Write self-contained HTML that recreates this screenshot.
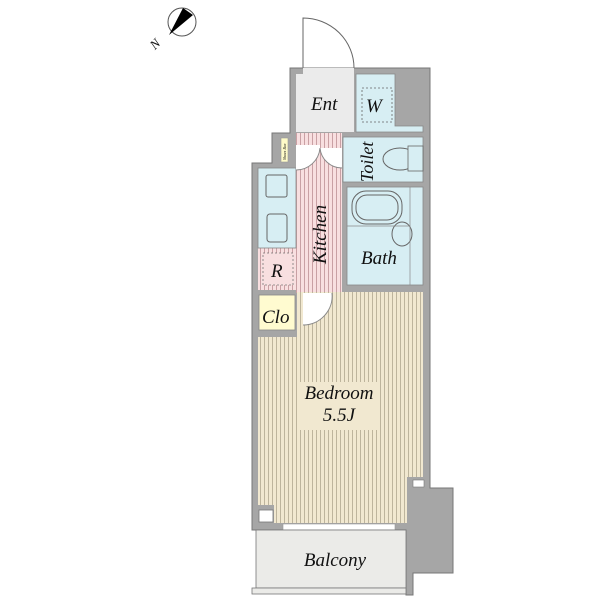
<!DOCTYPE html>
<html><head><meta charset="utf-8"><style>
html,body{margin:0;padding:0;background:#fff;}
svg{display:block}
text{font-family:"Liberation Serif",serif;font-style:italic;fill:#111}
</style></head><body>
<svg width="600" height="600" viewBox="0 0 600 600" xmlns="http://www.w3.org/2000/svg">
<defs>
<pattern id="bed" width="4" height="10" patternUnits="userSpaceOnUse"><rect width="4" height="10" fill="#f1e8d0"/><rect width="1" height="10" fill="#bdb49c"/></pattern>
<pattern id="pk" width="4" height="10" patternUnits="userSpaceOnUse"><rect width="4" height="10" fill="#f8dfe0"/><rect width="1" height="10" fill="#c9a0a4"/></pattern>
</defs>
<circle cx="182" cy="22" r="14" fill="#fff" stroke="#555" stroke-width="1"/>
<polygon points="169,35 183,8 193,15" fill="#000"/>
<text x="150" y="48" font-size="13" font-style="normal" transform="rotate(-45 155 43)">N</text>
<path d="M303,68 L303,18 A51,50 0 0 1 354,68" fill="none" stroke="#666" stroke-width="1"/>
<path d="M290,68 H430 V488 H453 V573 H413 V595 H406 V530 H252 V163 H272 V133 H290 Z" fill="#a6a6a6" stroke="#777" stroke-width="1"/>
<rect x="296" y="74" width="58" height="58" fill="#ebebeb"/>
<rect x="303" y="68" width="51" height="7" fill="#ebebeb"/>
<path d="M356,74 H395 V126 H423 V132 H356 Z" fill="#d7eef3" stroke="#888" stroke-width="0.8"/>
<rect x="362" y="88" width="30" height="34" fill="none" stroke="#666" stroke-dasharray="2,2" stroke-width="0.8"/>
<rect x="343" y="137" width="80" height="45" fill="#d7eef3" stroke="#888" stroke-width="0.8"/>
<ellipse cx="400" cy="159" rx="17" ry="11" fill="none" stroke="#666"/>
<rect x="408" y="146" width="15" height="25" fill="#d7eef3" stroke="#666" stroke-width="0.8"/>
<rect x="347" y="187" width="76" height="98" fill="#d7eef3" stroke="#888" stroke-width="0.8"/>
<rect x="352" y="191" width="50" height="33" rx="14" fill="none" stroke="#666"/>
<rect x="356" y="195" width="42" height="25" rx="11" fill="none" stroke="#666"/>
<ellipse cx="402" cy="234" rx="10" ry="12" fill="none" stroke="#666"/>
<line x1="347" y1="226" x2="410" y2="226" stroke="#888" stroke-width="0.7"/>
<line x1="410" y1="187" x2="410" y2="285" stroke="#888" stroke-width="0.7"/>
<rect x="296" y="133" width="46" height="160" fill="url(#pk)"/>
<rect x="258" y="248" width="38" height="42" fill="url(#pk)"/>
<rect x="263" y="253" width="30" height="32" fill="#f8dfe0" stroke="#777" stroke-dasharray="2,2" stroke-width="0.8"/>
<rect x="258" y="168" width="38" height="80" fill="#d7eef3" stroke="#888" stroke-width="0.8"/>
<rect x="266" y="175" width="21" height="22" rx="2" fill="none" stroke="#666"/>
<rect x="267" y="214" width="20" height="28" rx="3" fill="none" stroke="#666"/>
<rect x="281" y="138" width="7" height="24" fill="#fffbc8" stroke="#999" stroke-width="0.6"/>
<text x="0" y="0" font-size="4" transform="translate(286,160) rotate(-90)">Shoes Box</text>
<path d="M296,145 H320 V148 A24,24 0 0 1 296,170 Z" fill="#fff"/>
<path d="M320,148 A24,24 0 0 1 296,170" fill="none" stroke="#888"/>
<path d="M342,148 H320 A22,22 0 0 0 342,168 Z" fill="#fff"/>
<path d="M320,148 A22,22 0 0 0 342,168" fill="none" stroke="#888"/>
<rect x="259" y="295" width="36" height="35" fill="#fffbd0" stroke="#888" stroke-width="0.8"/>
<path d="M297,292 H423 V477 H407 V523 H275 V337 H258 V337 H297 Z" fill="url(#bed)"/>
<rect x="258" y="337" width="40" height="168" fill="url(#bed)"/>
<rect x="274" y="500" width="30" height="23" fill="url(#bed)"/>
<rect x="259" y="510" width="14" height="12" fill="#fff" stroke="#777" stroke-width="0.8"/>
<rect x="413" y="480" width="11" height="7" fill="#fff" stroke="#777" stroke-width="0.6"/>
<path d="M303,293 H332 A29,29 0 0 1 303,325 Z" fill="#fff"/>
<path d="M332,293 A29,29 0 0 1 303,325" fill="none" stroke="#888"/>
<rect x="298" y="382" width="80" height="48" fill="#f1e8d0"/>
<rect x="283" y="524" width="112" height="6" fill="#fff" stroke="#999" stroke-width="0.6"/>
<rect x="256" y="530" width="150" height="58" fill="#ebebe8" stroke="#777" stroke-width="0.8"/>
<rect x="252" y="588" width="154" height="6" fill="#ebebe8" stroke="#777" stroke-width="0.8"/>
<text x="311" y="110" font-size="19">Ent</text>
<text x="366" y="112" font-size="19">W</text>
<text x="0" y="0" font-size="18" transform="translate(373,182) rotate(-90)">Toilet</text>
<text x="361" y="264" font-size="19">Bath</text>
<text x="0" y="0" font-size="19" transform="translate(326,264) rotate(-90)">Kitchen</text>
<text x="271" y="277" font-size="19">R</text>
<text x="262" y="323" font-size="19">Clo</text>
<text x="339" y="399" font-size="19" text-anchor="middle">Bedroom</text>
<text x="339" y="421" font-size="19" text-anchor="middle" font-style="normal">5.5J</text>
<text x="335" y="566" font-size="19" text-anchor="middle">Balcony</text>
</svg>
</body></html>
